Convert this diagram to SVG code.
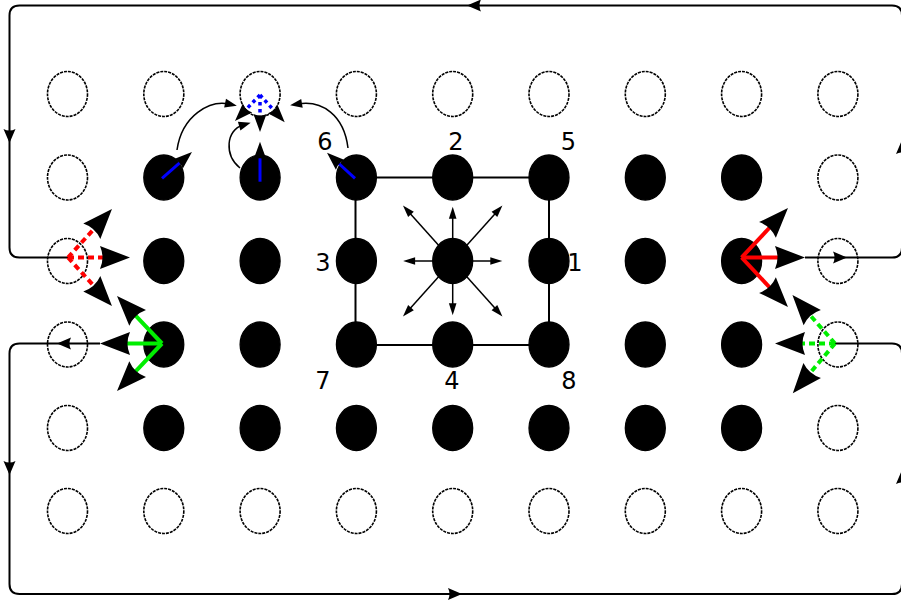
<svg xmlns="http://www.w3.org/2000/svg" xmlns:xlink="http://www.w3.org/1999/xlink" width="901" height="602" viewBox="0 0 901 602">
<style>
.e{fill:none;stroke:#000;stroke-width:1.6;stroke-dasharray:3,1}
.b{fill:#000;stroke:#000;stroke-width:1.3}
.fr{fill:none;stroke:#000;stroke-width:2}
.thin{fill:none;stroke:#000;stroke-width:1.5}
.red{fill:none;stroke:#ff0000;stroke-width:4}
.grn{fill:none;stroke:#00ee00;stroke-width:4}
.blu{fill:none;stroke:#0000ff;stroke-width:3}
.dash{stroke-dasharray:6,4}
.dot{stroke-dasharray:3.5,3.5;stroke-width:3.5}
.lbl{font-family:"DejaVu Sans",sans-serif;font-size:24px;fill:#000;text-anchor:middle}
</style>
<defs>
<marker id="big" markerUnits="userSpaceOnUse" orient="auto" refX="0" refY="0" markerWidth="60" markerHeight="60" overflow="visible">
<path d="M26,0 L-4,-11.5 Q1,0 -4,11.5 Z" fill="#000"/>
</marker>
<marker id="med" markerUnits="userSpaceOnUse" orient="auto" refX="0" refY="0" markerWidth="40" markerHeight="40" overflow="visible">
<path d="M13,0 L-5,-6.5 Q-2,0 -5,6.5 Z" fill="#000"/>
</marker>
<marker id="sm" markerUnits="userSpaceOnUse" orient="auto" refX="0" refY="0" markerWidth="30" markerHeight="30" overflow="visible">
<path d="M8,0 L-4,-3.8 L-4,3.8 Z" fill="#000"/>
</marker>
<marker id="cv" markerUnits="userSpaceOnUse" orient="auto" refX="0" refY="0" markerWidth="30" markerHeight="30" overflow="visible">
<path d="M8,0 L-4,-4.5 L-4,4.5 Z" fill="#000"/>
</marker>
<path id="ah" d="M0,0 L-14,-6 Q-11,0 -14,6 Z" fill="#000"/>
</defs>

<g id="connectors">
<path class="fr" d="M805,257.5 H892 Q902,257.5 902,247.5 V15.5 Q902,5.5 892,5.5 H19.5 Q9.5,5.5 9.5,15.5 V247.5 Q9.5,257.5 19.5,257.5 H68"/>
<path class="fr" d="M100,343.5 H19.5 Q9.5,343.5 9.5,353.5 V584 Q9.5,594 19.5,594 H892 Q902,594 902,584 V353.5 Q902,343.5 892,343.5 H835"/>
<use xlink:href="#ah" href="#ah" transform="translate(847,257.5)"/>
<use xlink:href="#ah" href="#ah" transform="translate(902,140) rotate(-90)"/>
<use xlink:href="#ah" href="#ah" transform="translate(467,5.5) rotate(180)"/>
<use xlink:href="#ah" href="#ah" transform="translate(9.5,143) rotate(90)"/>
<use xlink:href="#ah" href="#ah" transform="translate(57,343.5) rotate(180)"/>
<use xlink:href="#ah" href="#ah" transform="translate(9.5,475) rotate(90)"/>
<use xlink:href="#ah" href="#ah" transform="translate(462,594)"/>
<use xlink:href="#ah" href="#ah" transform="translate(902,470) rotate(-90)"/>
<rect x="355.5" y="177.5" width="193.5" height="167.5" rx="3" class="fr"/>
</g>

<g id="nodes">
<g id="row1">
<ellipse class="e" cx="67.5" cy="94" rx="20" ry="22.5"/>
<ellipse class="e" cx="163.8" cy="94" rx="20" ry="22.5"/>
<ellipse class="e" cx="260.1" cy="94" rx="20" ry="22.5"/>
<ellipse class="e" cx="356.4" cy="94" rx="20" ry="22.5"/>
<ellipse class="e" cx="452.7" cy="94" rx="20" ry="22.5"/>
<ellipse class="e" cx="549" cy="94" rx="20" ry="22.5"/>
<ellipse class="e" cx="645.3" cy="94" rx="20" ry="22.5"/>
<ellipse class="e" cx="741.6" cy="94" rx="20" ry="22.5"/>
<ellipse class="e" cx="837.9" cy="94" rx="20" ry="22.5"/>
</g>
<g id="row2">
<ellipse class="e" cx="67.5" cy="177.5" rx="20" ry="22.5"/>
<ellipse class="b" cx="163.8" cy="177.5" rx="20" ry="22.5"/>
<ellipse class="b" cx="260.1" cy="177.5" rx="20" ry="22.5"/>
<ellipse class="b" cx="356.4" cy="177.5" rx="20" ry="22.5"/>
<ellipse class="b" cx="452.7" cy="177.5" rx="20" ry="22.5"/>
<ellipse class="b" cx="549" cy="177.5" rx="20" ry="22.5"/>
<ellipse class="b" cx="645.3" cy="177.5" rx="20" ry="22.5"/>
<ellipse class="b" cx="741.6" cy="177.5" rx="20" ry="22.5"/>
<ellipse class="e" cx="837.9" cy="177.5" rx="20" ry="22.5"/>
</g>
<g id="row3">
<ellipse class="e" cx="67.5" cy="261" rx="20" ry="22.5"/>
<ellipse class="b" cx="163.8" cy="261" rx="20" ry="22.5"/>
<ellipse class="b" cx="260.1" cy="261" rx="20" ry="22.5"/>
<ellipse class="b" cx="356.4" cy="261" rx="20" ry="22.5"/>
<ellipse class="b" cx="452.7" cy="261" rx="20" ry="22.5"/>
<ellipse class="b" cx="549" cy="261" rx="20" ry="22.5"/>
<ellipse class="b" cx="645.3" cy="261" rx="20" ry="22.5"/>
<ellipse class="b" cx="741.6" cy="261" rx="20" ry="22.5"/>
<ellipse class="e" cx="837.9" cy="261" rx="20" ry="22.5"/>
</g>
<g id="row4">
<ellipse class="e" cx="67.5" cy="344.5" rx="20" ry="22.5"/>
<ellipse class="b" cx="163.8" cy="344.5" rx="20" ry="22.5"/>
<ellipse class="b" cx="260.1" cy="344.5" rx="20" ry="22.5"/>
<ellipse class="b" cx="356.4" cy="344.5" rx="20" ry="22.5"/>
<ellipse class="b" cx="452.7" cy="344.5" rx="20" ry="22.5"/>
<ellipse class="b" cx="549" cy="344.5" rx="20" ry="22.5"/>
<ellipse class="b" cx="645.3" cy="344.5" rx="20" ry="22.5"/>
<ellipse class="b" cx="741.6" cy="344.5" rx="20" ry="22.5"/>
<ellipse class="e" cx="837.9" cy="344.5" rx="20" ry="22.5"/>
</g>
<g id="row5">
<ellipse class="e" cx="67.5" cy="428" rx="20" ry="22.5"/>
<ellipse class="b" cx="163.8" cy="428" rx="20" ry="22.5"/>
<ellipse class="b" cx="260.1" cy="428" rx="20" ry="22.5"/>
<ellipse class="b" cx="356.4" cy="428" rx="20" ry="22.5"/>
<ellipse class="b" cx="452.7" cy="428" rx="20" ry="22.5"/>
<ellipse class="b" cx="549" cy="428" rx="20" ry="22.5"/>
<ellipse class="b" cx="645.3" cy="428" rx="20" ry="22.5"/>
<ellipse class="b" cx="741.6" cy="428" rx="20" ry="22.5"/>
<ellipse class="e" cx="837.9" cy="428" rx="20" ry="22.5"/>
</g>
<g id="row6">
<ellipse class="e" cx="67.5" cy="511" rx="20" ry="22.5"/>
<ellipse class="e" cx="163.8" cy="511" rx="20" ry="22.5"/>
<ellipse class="e" cx="260.1" cy="511" rx="20" ry="22.5"/>
<ellipse class="e" cx="356.4" cy="511" rx="20" ry="22.5"/>
<ellipse class="e" cx="452.7" cy="511" rx="20" ry="22.5"/>
<ellipse class="e" cx="549" cy="511" rx="20" ry="22.5"/>
<ellipse class="e" cx="645.3" cy="511" rx="20" ry="22.5"/>
<ellipse class="e" cx="741.6" cy="511" rx="20" ry="22.5"/>
<ellipse class="e" cx="837.9" cy="511" rx="20" ry="22.5"/>
</g>
</g>

<g id="velocities">
<g class="thin" marker-end="url(#sm)">
<path d="M452.7,261 H494.3"/>
<path d="M452.7,261 H411.1"/>
<path d="M452.7,261 V214.7"/>
<path d="M452.7,261 V307.3"/>
<path d="M452.7,261 L497.1,211.4"/>
<path d="M452.7,261 L408.3,211.4"/>
<path d="M452.7,261 L497.1,310.6"/>
<path d="M452.7,261 L408.3,310.6"/>
</g>
<g class="red" marker-end="url(#big)">
<path class="dash" d="M68,257.5 H104"/>
<path class="dash" d="M68,257.5 L94.5,228.3"/>
<path class="dash" d="M68,257.5 L94.5,286.7"/>
<path d="M741.6,257.5 H779"/>
<path d="M741.6,257.5 L770.2,227"/>
<path d="M741.6,257.5 L770.2,288"/>
</g>
<g class="grn" marker-end="url(#big)">
<path d="M162,343.5 H126"/>
<path d="M162,343.5 L134.9,314.9"/>
<path d="M162,343.5 L134.9,372.1"/>
<path class="dash" d="M835,343.5 H801"/>
<path class="dash" d="M835,343.5 L809.6,314.6"/>
<path class="dash" d="M835,343.5 L809.6,373.5"/>
</g>
<g class="blu" marker-end="url(#med)">
<path class="dot" d="M260,95 V119"/>
<path class="dot" d="M260,95 L244,111.6"/>
<path class="dot" d="M260,95 L276,112.7"/>
<path d="M162,178.3 L182.2,160.6"/>
<path d="M260,181.7 V154.7"/>
<path d="M355,178.3 L336.6,161.5"/>
</g>
<g class="thin" marker-end="url(#cv)">
<path d="M177,150 C182,115 210,100 229,104"/>
<path d="M240,168 C224,155 226,130 243,125"/>
<path d="M348,148 C344,115 322,100 298,104"/>
</g>
</g>

<g id="labels">
<text class="lbl" x="325" y="150">6</text>
<text class="lbl" x="456" y="150">2</text>
<text class="lbl" x="568.5" y="150">5</text>
<text class="lbl" x="323" y="271">3</text>
<text class="lbl" x="575" y="271">1</text>
<text class="lbl" x="323" y="389">7</text>
<text class="lbl" x="452" y="389">4</text>
<text class="lbl" x="569" y="389">8</text>
</g>
</svg>
